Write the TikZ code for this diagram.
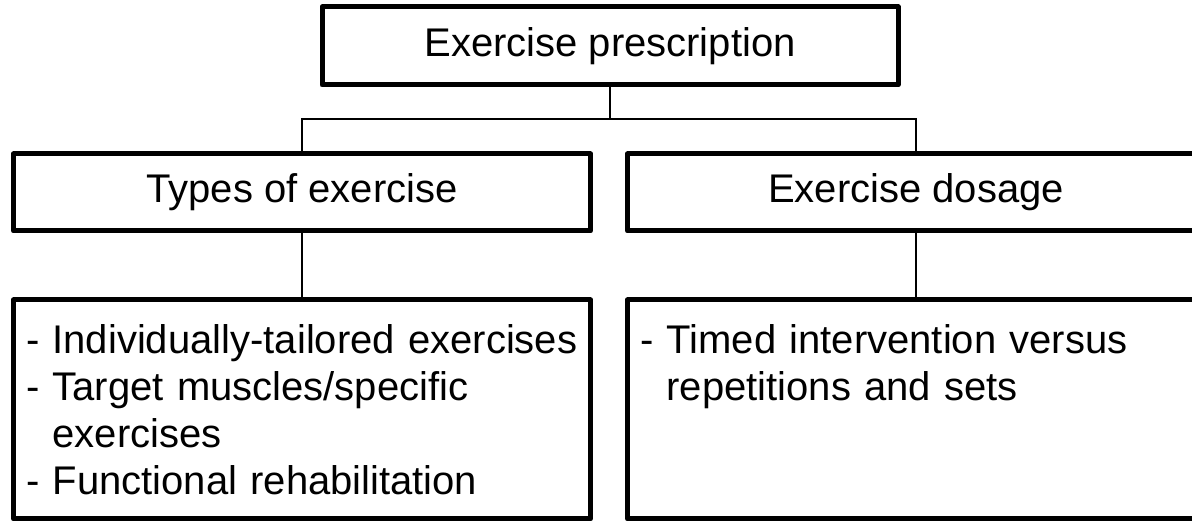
\documentclass[tikz,border=0pt]{standalone}
\usepackage{fontspec}
\setmainfont{Liberation Sans}
\usetikzlibrary{positioning}

\begin{document}
\begin{tikzpicture}[
        x=1pt, y=1pt,
        % Stili globali per lo schema
        every node/.style={font=\fontsize{40}{47}\selectfont}, % Font simile ad Arial
        box/.style={draw, line width=5pt, line join=round, minimum width=577pt,
                    inner sep=0pt, outer sep=0pt},
        headbox/.style={box, minimum width=576pt, minimum height=78pt}, % Riquadro in alto
        midbox/.style={box, minimum height=77pt},                        % Riquadri intermedi
        listbox/.style={box, text width=552pt, align=left, inner xsep=12.5pt, inner ysep=0pt,
                        text height=54pt, text depth=165pt},            % Elenchi in basso
        link/.style={line width=2pt}
    ]
    \clip (0,0) rectangle (1192,521);

    \node[headbox] (prescr) at (610,475) {Exercise prescription};

    \node[midbox, below=69pt of prescr.south, xshift=-308pt] (types) {Types of exercise};
    \node[midbox, right=37pt of types] (dosage) {Exercise dosage};

    \node[listbox, below=69pt of types] (typelist) {- Individually-tailored exercises\\
        - Target muscles/specific\\
        \phantom{- }exercises\\
        - Functional rehabilitation};
    \node[listbox, below=69pt of dosage] (doselist) {- Timed intervention versus\\
        \phantom{- }repetitions and sets};

    \draw[link] (prescr.south) -- ++(0,-34.5);
    \draw[link] (types.north) -- ++(0,34.5) -| (dosage.north);
    \draw[link] (types.south) -- (typelist.north);
    \draw[link] (dosage.south) -- (doselist.north);
    \end{tikzpicture}
\end{document}
